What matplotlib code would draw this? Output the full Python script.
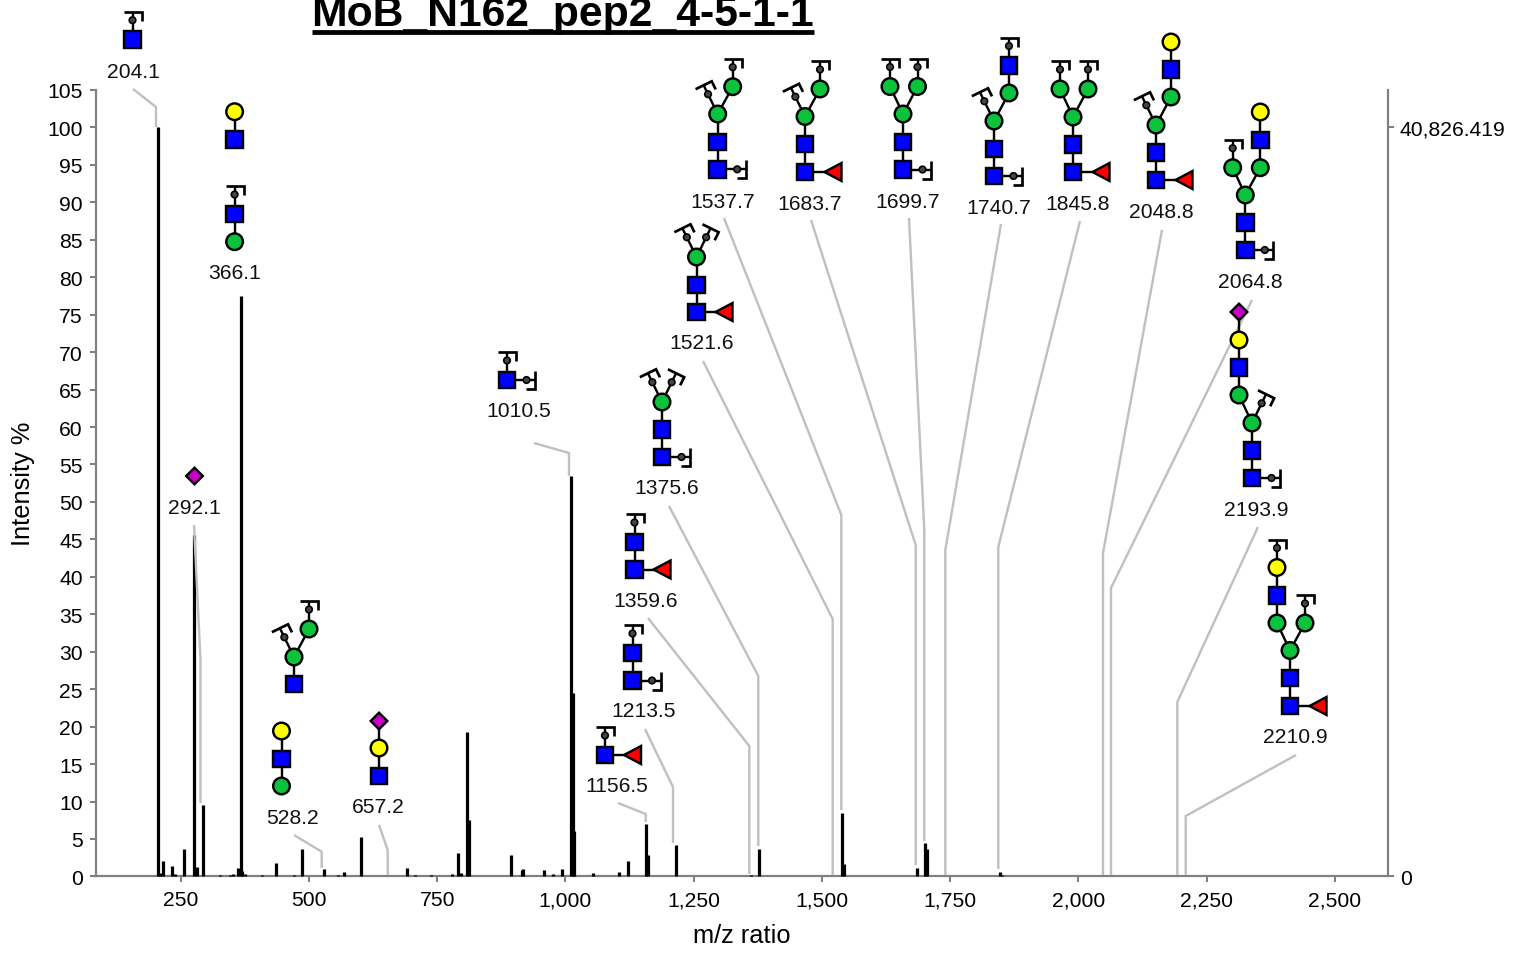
import matplotlib
matplotlib.use("Agg")
import matplotlib.pyplot as plt
from matplotlib.patches import Circle, Polygon, Rectangle
from matplotlib.ticker import FuncFormatter
import numpy as np

plt.rcParams['font.family'] = ['Liberation Sans', 'DejaVu Sans']

# ---- data ----
title_text = "MoB_N162_pep2_4-5-1-1"
peak_mz = [206, 210, 216, 234, 238, 257, 276.5, 282, 294, 326, 346, 351, 362, 368, 370, 376,
           409, 436, 471, 487, 530, 556, 569, 602, 692, 707, 737, 778, 791, 797, 809, 812,
           893, 916, 918, 959, 976, 994, 1011, 1014, 1017, 1054, 1105, 1122, 1157.6, 1161,
           1216, 1361, 1378, 1540, 1543, 1686, 1701, 1704, 1745, 1848, 1851]
peak_int = [100, 0.5, 2.1, 1.4, 0.3, 3.6, 45.6, 1.2, 9.6, 0.2, 0.2, 0.3, 1.1, 77.5, 0.7, 0.3,
            0.2, 1.8, 0.2, 3.6, 1.0, 0.2, 0.6, 5.2, 1.1, 0.2, 0.2, 0.3, 3.1, 0.5, 19.3, 7.5,
            2.9, 0.9, 1.0, 0.9, 0.3, 1.0, 53.5, 24.5, 6.1, 0.45, 0.6, 2.1, 7.0, 2.8,
            4.2, 0.15, 3.7, 8.5, 1.6, 1.15, 4.4, 3.6, 0.1, 0.6, 0.2]
noise_mz = [640, 668, 722, 752, 765, 828, 842, 858, 872, 905, 935, 945, 1030, 1042, 1072, 1082, 1095,
            1135, 1178, 1190, 1201, 1230, 1245, 1262, 1278, 1305, 1322, 1345, 1395, 1412, 1425, 1448,
            1470, 1488, 1508, 1525, 1560, 1585, 1600, 1618, 1640, 1662, 1675, 1722, 1735, 1762, 1780,
            1798, 1815, 1870, 1890, 1905, 1925, 1952, 1975, 1992, 2015, 2030, 2045, 2072, 2090, 2120,
            2150, 2168, 2180, 2205, 2222, 2262, 2275, 2290, 2310, 2345, 2372, 2408, 2425, 2440, 2470, 2490]
noise_int = [0.12] * len(noise_mz)
y_ticks = list(range(0, 106, 5))
x_ticks = [250, 500, 750, 1000, 1250, 1500, 1750, 2000, 2250, 2500]
abs_full_scale = 40826.419
x_label = "m/z ratio"
y_label = "Intensity %"
peak_labels = ["204.1", "366.1", "292.1", "528.2", "657.2", "1010.5", "1156.5", "1213.5", "1359.6", "1375.6",
               "1521.6", "1537.7", "1683.7", "1699.7", "1740.7", "1845.8", "2048.8", "2064.8", "2193.9", "2210.9"]

# ---- layout (pixels of the page) ----
W, H = 1527, 954
AX_L, AX_R, AX_T, AX_B = 96, 1388, 91.0, 877.4
X0, X1 = 84.9, 2603.4
GREY = "#808080"
LEAD = "#c0c0c0"
PX = 0.72  # points per pixel at dpi 100

label_xy = [(133, 71), (235, 273), (194.5, 507), (293, 818), (378, 807), (518.5, 411), (616.5, 786), (644, 711),
            (646, 601), (667, 488), (701.5, 343), (722.5, 201), (810, 203), (908, 201), (999, 207), (1078, 203),
            (1161, 211), (1250, 282), (1256.5, 509), (1295, 737)]

leaders = [
    [(133, 89), (156, 107), (156, 127)],
    [(194, 525), (200.5, 660), (200.5, 803)],
    [(294, 835), (321.7, 851.7), (321.7, 868)],
    [(379, 825), (387.7, 850), (387.7, 875)],
    [(534, 443), (569, 453), (569, 476)],
    [(618, 803), (645.7, 814), (645.7, 822)],
    [(645, 729), (673, 787), (673, 843)],
    [(648, 618), (749.3, 746), (749.3, 874)],
    [(669, 506), (758.3, 676), (758.3, 846)],
    [(703, 361), (832.7, 619), (832.7, 875)],
    [(724, 218), (841.3, 515), (841.3, 810)],
    [(811, 220), (915.7, 545), (915.7, 865)],
    [(909, 218), (924.3, 530), (924.3, 841)],
    [(1001, 224), (945.3, 550), (945.3, 875)],
    [(1080, 221), (998.3, 547), (998.3, 869)],
    [(1162, 230), (1103, 553), (1103, 875)],
    [(1252, 300), (1111, 588), (1111, 875)],
    [(1258, 527), (1177.3, 702), (1177.3, 875)],
    [(1296, 755), (1185.7, 816), (1185.7, 875)],
]

U, R, UL, UR = (0, -1), (1, 0), (-0.44, -0.90), (0.44, -0.90)
# each icon: nodes (kind, x, y, parent index or None), caps (node index, direction)
icons = [
    ([("b", 132.5, 39.7, None)], [(0, U)]),
    ([("y", 234.6, 111.7, None), ("b", 234.6, 139.7, 0)], []),
    ([("b", 234.6, 214, None), ("g", 234.6, 241.7, 0)], [(0, U)]),
    ([("d", 194.5, 476, None)], []),
    ([("b", 294, 684, None), ("g", 294, 657, 0), ("g", 309, 629, 1)], [(1, UL), (2, U)]),
    ([("y", 281.5, 731, None), ("b", 281.5, 759, 0), ("g", 281.5, 786, 1)], []),
    ([("d", 379, 721, None), ("y", 379, 748, 0), ("b", 379, 776, 1)], []),
    ([("b", 507, 380, None)], [(0, U), (0, R)]),
    ([("b", 605, 755, None), ("f", 632.5, 755, 0)], [(0, U)]),
    ([("b", 632.5, 653, None), ("b", 632.5, 680.5, 0)], [(0, U), (1, R)]),
    ([("b", 634.5, 542, None), ("b", 634.5, 569.5, 0), ("f", 662, 569.5, 1)], [(0, U)]),
    ([("b", 662, 457, None), ("b", 662, 429.5, 0), ("g", 662, 402, 1)], [(0, R), (2, UL), (2, UR)]),
    ([("b", 696.5, 312, None), ("f", 724, 312, 0), ("b", 696.5, 285, 0), ("g", 696.5, 257, 2)], [(3, UL), (3, UR)]),
    ([("b", 717.7, 169.3, None), ("b", 717.7, 142, 0), ("g", 717.7, 114, 1), ("g", 732.7, 86.7, 2)], [(0, R), (2, UL), (3, U)]),
    ([("b", 805, 172, None), ("f", 833, 172, 0), ("b", 805, 144, 0), ("g", 805, 116.5, 2), ("g", 820, 89, 3)], [(3, UL), (4, U)]),
    ([("b", 903, 169.5, None), ("b", 903, 142, 0), ("g", 903, 114, 1), ("g", 890, 86.5, 2), ("g", 917.5, 86.5, 2)], [(0, R), (3, U), (4, U)]),
    ([("b", 994, 176, None), ("b", 994, 149, 0), ("g", 994, 121, 1), ("g", 1009, 93, 2), ("b", 1009, 65.5, 3)], [(0, R), (2, UL), (4, U)]),
    ([("b", 1073, 172, None), ("f", 1101, 172, 0), ("b", 1073, 144.5, 0), ("g", 1073, 117, 2), ("g", 1060, 89, 3), ("g", 1088, 89, 3)], [(4, U), (5, U)]),
    ([("b", 1156, 180, None), ("f", 1184, 180, 0), ("b", 1156, 152.5, 0), ("g", 1156, 125, 2), ("g", 1171, 97, 3), ("b", 1171, 69.5, 4), ("y", 1171, 42, 5)], [(3, UL)]),
    ([("b", 1245.3, 250, None), ("b", 1245.3, 222.7, 0), ("g", 1245.3, 195, 1), ("g", 1232.7, 167.7, 2), ("g", 1260.3, 167.7, 2), ("b", 1260.3, 140, 4), ("y", 1260.3, 112, 5)], [(0, R), (3, U)]),
    ([("b", 1252, 478, None), ("b", 1252, 450.5, 0), ("g", 1252, 423, 1), ("g", 1239, 395, 2), ("b", 1239, 367.5, 3), ("y", 1239, 340, 4), ("d", 1239, 312, 5)], [(0, R), (2, UR)]),
    ([("b", 1290, 706, None), ("f", 1318, 706, 0), ("b", 1290, 678, 0), ("g", 1290, 650.5, 2), ("g", 1277, 623, 3), ("g", 1305, 623, 3), ("b", 1277, 595.5, 4), ("y", 1277, 567.5, 6)], [(5, U), (7, U)]),
]

COL = {"b": "#0000FF", "g": "#0BC23C", "y": "#FFFF00", "f": "#FF0000", "d": "#C800C8"}

# ---- figure ----
fig = plt.figure(figsize=(W / 100, H / 100), dpi=100, facecolor="white")
rect = [AX_L / W, 1 - AX_B / H, (AX_R - AX_L) / W, (AX_B - AX_T) / H]
ax = fig.add_axes(rect, zorder=2)
ax.patch.set_visible(False)
ax2 = ax.twinx()
ax2.set_zorder(1)

ax.vlines(peak_mz, 0, peak_int, color="black", lw=3.2 * PX, zorder=5, clip_on=False)
ax.vlines(noise_mz, 0, noise_int, color="black", lw=3 * PX, zorder=5, clip_on=False)

ax.set_xlim(X0, X1)
ax.set_ylim(0, 105)
ax.set_xticks(x_ticks)
ax.set_yticks(y_ticks)
ax.xaxis.set_major_formatter(FuncFormatter(lambda v, _: f"{v:,.0f}"))
ax.tick_params(axis="x", length=4.5, width=2 * PX, color=GREY, labelsize=15.2, pad=5.5, labelcolor="black")
ax.tick_params(axis="y", length=4.5, width=2 * PX, color=GREY, labelsize=15.2, pad=5, labelcolor="black")
for s in ("top", "right"):
    ax.spines[s].set_visible(False)
for s in ("left", "bottom"):
    ax.spines[s].set_color(GREY)
    ax.spines[s].set_linewidth(2.2 * PX)

ax2.set_ylim(0, 105 * abs_full_scale / 100)
ax2.set_yticks([0, abs_full_scale])
ax2.yaxis.set_major_formatter(FuncFormatter(lambda v, _: "0" if v == 0 else f"{v:,.3f}"))
ax2.tick_params(axis="y", length=4.5, width=2 * PX, color=GREY, labelsize=15.2, pad=4, labelcolor="black")
for s in ("top", "left", "bottom"):
    ax2.spines[s].set_visible(False)
ax2.spines["right"].set_color(GREY)
ax2.spines["right"].set_linewidth(2.2 * PX)

# overlay for annotations, in page pixels
ov = fig.add_axes([0, 0, 1, 1], zorder=3)
ov.set_xlim(0, W)
ov.set_ylim(H - 1, -1)
ov.axis("off")
ov.patch.set_visible(False)

ov.text(742, 935, x_label, ha="center", va="center", fontsize=18.3)
ov.text(23, 483, y_label, ha="center", va="center", rotation=90, fontsize=18.3)
ov.text(562.5, 25, title_text, ha="center", va="baseline", fontsize=30.7, fontweight="bold", clip_on=False)
ov.plot([312, 814], [31.5, 31.5], color="black", lw=4.8 * PX, solid_capstyle="butt")

for txt, (x, y) in zip(peak_labels, label_xy):
    ov.text(x, y, txt, ha="center", va="center", fontsize=15.2, color="#111111", zorder=4)

for pts in leaders:
    xs, ys = zip(*pts)
    ov.plot(xs, ys, color=LEAD, lw=2.4 * PX, solid_joinstyle="miter", solid_capstyle="butt", zorder=2)

EDGE = dict(edgecolor="black", linewidth=2.4 * PX, zorder=7)

def draw_cap(x, y, d):
    slanted = d in (UL, UR)
    d = np.array(d, float)
    d = d / np.hypot(*d)
    p = np.array([d[1] * -1, d[0]])  # clockwise side on screen (y down)
    base = np.array([x, y])
    bar_c = base + (32 if slanted else 28) * d
    ov.plot(*zip(base, bar_c), color="black", lw=2.4 * PX, zorder=5, solid_capstyle="butt")
    a = bar_c - 9 * p
    b = bar_c + 9 * p
    c = b - 9 * d
    ov.plot(*zip(a, b, c), color="black", lw=2.7 * PX, zorder=5, solid_joinstyle="miter", solid_capstyle="butt")
    cc = base + (22 if slanted else 19.5) * d
    ov.add_patch(Circle(cc, 3.3, facecolor="#444444", edgecolor="black", linewidth=1.6 * PX, zorder=6))

def draw_node(kind, x, y):
    r = 8.3
    if kind == "b":
        ov.add_patch(Rectangle((x - r, y - r), 2 * r, 2 * r, facecolor=COL[kind], **EDGE))
    elif kind in ("g", "y"):
        ov.add_patch(Circle((x, y), r, facecolor=COL[kind], **EDGE))
    elif kind == "d":
        ov.add_patch(Polygon([(x - r, y), (x, y - r), (x + r, y), (x, y + r)], facecolor=COL[kind], joinstyle="miter", **EDGE))
    elif kind == "f":
        ov.add_patch(Polygon([(x - 8.5, y), (x + 8.5, y - 9), (x + 8.5, y + 9)], facecolor=COL[kind], joinstyle="miter", **EDGE))

for nodes, caps in icons:
    for kind, x, y, parent in nodes:
        if parent is not None:
            _, px, py, _ = nodes[parent]
            ov.plot([x, px], [y, py], color="black", lw=2.4 * PX, zorder=5)
    for idx, d in caps:
        draw_cap(nodes[idx][1], nodes[idx][2], d)
    for kind, x, y, parent in nodes:
        draw_node(kind, x, y)

fig.savefig("out.png", dpi=100)
